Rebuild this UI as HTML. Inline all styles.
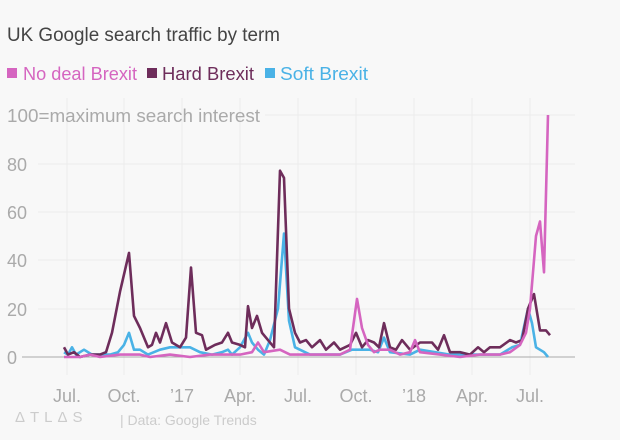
<!DOCTYPE html>
<html><head><meta charset="utf-8"><style>
body{margin:0;background:#f8f8f8;font-family:"Liberation Sans",sans-serif;}
svg{display:block}
</style></head><body>
<svg id="s" width="620" height="440" xmlns="http://www.w3.org/2000/svg">
<rect width="620" height="440" fill="#f8f8f8"/>
<text x="7" y="41" font-size="19" fill="#444" textLength="273" lengthAdjust="spacingAndGlyphs">UK Google search traffic by term</text>
<rect x="7" y="68" width="10" height="10" fill="#d565c0"/>
<text x="23" y="80" font-size="18" fill="#d565c0" textLength="114" lengthAdjust="spacingAndGlyphs">No deal Brexit</text>
<rect x="147" y="68" width="10" height="10" fill="#6e2d5b"/>
<text x="162" y="80" font-size="18" fill="#6e2d5b" textLength="92" lengthAdjust="spacingAndGlyphs">Hard Brexit</text>
<rect x="265" y="68" width="10" height="10" fill="#4ab2e6"/>
<text x="280" y="80" font-size="18" fill="#4ab2e6" textLength="88" lengthAdjust="spacingAndGlyphs">Soft Brexit</text>
<g stroke="#ececec" stroke-width="1">
<line x1="67" y1="98" x2="67" y2="375"/><line x1="124" y1="98" x2="124" y2="375"/><line x1="182" y1="98" x2="182" y2="375"/><line x1="240" y1="98" x2="240" y2="375"/><line x1="298" y1="98" x2="298" y2="375"/><line x1="356" y1="98" x2="356" y2="375"/><line x1="414" y1="98" x2="414" y2="375"/><line x1="472" y1="98" x2="472" y2="375"/><line x1="530" y1="98" x2="530" y2="375"/>
<line x1="265" y1="115" x2="575" y2="115"/><line x1="38" y1="164" x2="575" y2="164"/><line x1="38" y1="212" x2="575" y2="212"/><line x1="38" y1="260" x2="575" y2="260"/><line x1="38" y1="309" x2="575" y2="309"/>
</g>
<line x1="22" y1="357" x2="575" y2="357" stroke="#aaa" stroke-width="1"/>
<g font-size="18" fill="#aaa">
<text x="7" y="122" textLength="253" lengthAdjust="spacingAndGlyphs">100=maximum search interest</text>
<text x="7" y="171">80</text><text x="7" y="219">60</text><text x="7" y="267">40</text><text x="7" y="316">20</text><text x="7" y="364">0</text>
</g>
<g font-size="18" fill="#aaa" text-anchor="middle">
<text x="67" y="402">Jul.</text><text x="124" y="402">Oct.</text><text x="182" y="402">’17</text><text x="240" y="402">Apr.</text><text x="298" y="402">Jul.</text><text x="356" y="402">Oct.</text><text x="414" y="402">’18</text><text x="472" y="402">Apr.</text><text x="530" y="402">Jul.</text>
</g>
<text x="15" y="422" font-size="15" fill="#ccc" letter-spacing="5">ΔTLΔS</text>
<text x="120" y="425" font-size="14" fill="#ccc">| Data: Google Trends</text>
<g id="lines" fill="none" stroke-width="2.6" stroke-linejoin="round"></g>
</svg>
<script>
function y(v){return 357-v*2.42;}
var hard=[[64,4],[68,1],[74,2],[80,0],[90,1],[100,1],[106,2],[112,10],[120,27],[129,43],[134,17],[140,12],[148,4],[152,5],[156,10],[160,6],[166,14],[172,6],[180,4],[186,8],[191,37],[196,10],[202,9],[206,3],[215,5],[222,6],[228,10],[232,6],[240,5],[245,4],[248,21],[252,12],[257,17],[262,10],[268,7],[274,4],[280,77],[284,74],[289,20],[295,10],[300,6],[306,7],[312,4],[320,7],[326,3],[334,6],[340,3],[350,5],[356,10],[362,4],[368,7],[374,6],[379,4],[384,14],[390,4],[396,3],[402,7],[410,3],[420,6],[426,6],[432,6],[438,3],[444,9],[450,2],[460,2],[470,1],[478,4],[484,2],[490,4],[500,4],[510,7],[516,6],[522,7],[528,20],[534,26],[540,11],[546,11],[550,9]];
var nod=[[64,0],[80,0],[90,1],[100,0],[120,1],[140,1],[150,0],[170,1],[190,0],[210,1],[240,1],[252,2],[258,6],[264,2],[280,3],[290,1],[310,1],[340,1],[350,3],[357,24],[362,12],[368,5],[374,2],[380,3],[390,3],[400,1],[410,2],[415,7],[420,2],[440,1],[460,0],[480,1],[500,1],[510,2],[520,5],[526,10],[530,20],[536,50],[540,56],[544,35],[548,100]];
var soft=[[64,2],[68,1],[72,4],[76,1],[84,3],[92,1],[110,1],[118,2],[124,5],[129,10],[134,3],[140,3],[148,1],[160,3],[170,4],[180,4],[190,4],[200,2],[212,1],[222,2],[228,3],[232,1],[240,4],[248,10],[252,6],[258,3],[264,1],[270,7],[278,20],[284,51],[289,15],[295,4],[310,1],[340,1],[352,3],[370,3],[378,2],[384,8],[390,2],[410,1],[420,3],[450,1],[480,1],[500,1],[512,4],[520,5],[528,20],[532,14],[536,4],[544,2],[548,0]];
var g=document.getElementById('lines');
[[soft,'#4ab2e6'],[hard,'#6e2d5b'],[nod,'#d565c0']].forEach(function(a){
var p=document.createElementNS('http://www.w3.org/2000/svg','polyline');
p.setAttribute('points',a[0].map(function(q){return q[0]+','+y(q[1]).toFixed(1)}).join(' '));
p.setAttribute('stroke',a[1]);g.appendChild(p);});
</script>
</body></html>
